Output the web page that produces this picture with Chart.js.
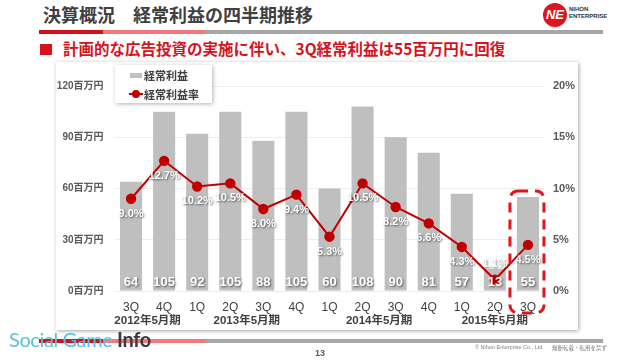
<!DOCTYPE html>
<html>
<head>
<meta charset="utf-8">
<script src="https://cdn.jsdelivr.net/npm/chart.js@4"></script>
<style>
  html,body{margin:0;padding:0;background:#fff;}
  body{width:640px;height:360px;position:relative;overflow:hidden;font-family:"Liberation Sans","Noto Sans CJK JP",sans-serif;}
  .abs{position:absolute;}
  .title{left:43px;top:1px;font:bold 18px "Noto Sans CJK JP",sans-serif;color:#404040;white-space:nowrap;}
  .bar3{height:4px;}
  .sub{left:63px;top:37px;font:bold 15.5px "Noto Sans CJK JP",sans-serif;color:#d7121c;white-space:nowrap;}
  .sq{left:40px;top:44px;width:12px;height:11px;background:#d7121c;}
  .panel{left:56px;top:62px;width:522px;height:268px;background:#fff;box-shadow:1px 1px 4px rgba(0,0,0,.35);}
  .legend{left:115px;top:65px;width:97px;height:38px;background:#fff;box-shadow:1px 1px 4px rgba(0,0,0,.3);font:bold 11px "Noto Sans CJK JP",sans-serif;color:#404040;}
  .legend div{position:absolute;white-space:nowrap;}
  .foot{font-family:"Liberation Sans",sans-serif;color:#7f7f7f;}
</style>
</head>
<body>
<div class="abs title">決算概況　経常利益の四半期推移</div>
<div class="abs bar3" style="left:39px;top:30px;width:64px;background:#d0101a"></div>
<div class="abs bar3" style="left:103px;top:30px;width:103px;background:#f4797f"></div>
<div class="abs bar3" style="left:206px;top:30px;width:397px;background:#a6a6a6"></div>

<div class="abs" style="left:543px;top:3px;width:24px;height:24px;border-radius:50%;background:#e0141e;color:#fff;font:italic bold 13px 'Liberation Sans',sans-serif;text-align:center;line-height:24px;">NE</div>
<div class="abs" style="left:569px;top:6px;font:bold 6px 'Liberation Sans',sans-serif;color:#333;line-height:7px;">NIHON<br>ENTERPRISE</div>

<div class="abs sq"></div>
<div class="abs sub">計画的な広告投資の実施に伴い、3Q経常利益は55百万円に回復</div>

<div class="abs panel">
  <canvas id="c" width="522" height="268"></canvas>
</div>

<div class="abs legend">
  <div style="left:15px;top:8px;width:12px;height:5px;background:#bfbfbf"></div>
  <div style="left:29px;top:2px">経常利益</div>
  <div style="left:14px;top:28px;width:14px;height:2px;background:#c00000"></div>
  <div style="left:17px;top:25px;width:8px;height:8px;border-radius:50%;background:#c00000"></div>
  <div style="left:29px;top:21px">経常利益率</div>
</div>

<div class="abs bar3" style="left:39px;top:339px;width:64px;background:#d0101a"></div>
<div class="abs bar3" style="left:103px;top:339px;width:103px;background:#f4797f"></div>
<div class="abs bar3" style="left:206px;top:339px;width:397px;background:#a6a6a6"></div>
<div class="abs" style="left:9px;top:327px;font:20px Lato,sans-serif;white-space:nowrap;letter-spacing:-.4px;"><span style="color:#55c3d8">Social Game </span><span style="color:#3a3a3a;font-weight:bold">Info</span></div>
<div class="abs foot" style="left:315px;top:348px;font-size:9px;font-weight:bold;color:#595959">13</div>
<div class="abs foot" style="left:475px;top:344px;font-size:5.5px">© Nihon Enterprise Co., Ltd.</div>
<div class="abs foot" style="left:552px;top:344px;font:5.5px 'Noto Sans CJK JP',sans-serif;color:#7f7f7f">無断転載・転用を禁ず</div>

<script>
const quarters = ['3Q','4Q','1Q','2Q','3Q','4Q','1Q','2Q','3Q','4Q','1Q','2Q','3Q'];
const profit = [64, 105, 92, 105, 88, 105, 60, 108, 90, 81, 57, 13, 55];
const margin = [9.0, 12.7, 10.2, 10.5, 8.0, 9.4, 5.3, 10.5, 8.2, 6.6, 4.3, 1.1, 4.5];
const yearLabels = ['2012年5月期', '2013年5月期', '2014年5月期', '2015年5月期'];
const yearFrom = [0, 2, 6, 10];
const yearTo = [1, 5, 9, 12];
const highlight = 12;
const labelAbove = [11];   // rate label drawn above its point

const FONT = "'Liberation Sans','Noto Sans CJK JP',sans-serif";
const RED = '#c00000';

// ─── labels, year groups, highlight box ─────────────────────────────────────
const extras = {
  id: 'extras',
  afterDatasetsDraw(chart) {
    const {ctx, chartArea} = chart;
    const bars = chart.getDatasetMeta(0).data;
    const pts = chart.getDatasetMeta(1).data;
    ctx.save();
    ctx.textAlign = 'center'; ctx.textBaseline = 'middle';
    ctx.shadowColor = 'rgba(0,0,0,.55)'; ctx.shadowBlur = 2; ctx.shadowOffsetX = 1; ctx.shadowOffsetY = 1;
    ctx.fillStyle = '#fff';
    ctx.font = 'bold 13px ' + FONT;
    bars.forEach((b, i) => ctx.fillText(profit[i], b.x, chartArea.bottom - 9));
    ctx.font = 'bold 11px ' + FONT;
    pts.forEach((p, i) => ctx.fillText(margin[i].toFixed(1) + '%', p.x, p.y + (labelAbove.includes(i) ? -16 : 15)));
    ctx.restore();
  },
  afterDraw(chart) {
    const {ctx, chartArea, scales} = chart;
    const x = scales.x;
    ctx.save();
    ctx.fillStyle = '#404040';
    ctx.textAlign = 'center'; ctx.textBaseline = 'middle';
    ctx.font = 'bold 11.5px ' + FONT;
    yearLabels.forEach((t, i) => {
      const cx = (x.getPixelForValue(yearFrom[i]) + x.getPixelForValue(yearTo[i])) / 2;
      ctx.fillText(t, cx, chartArea.bottom + 30);
    });
    const cx = x.getPixelForValue(highlight);
    const top = scales.y.getPixelForValue(profit[highlight]) - 6;
    const bottom = chartArea.bottom + 22;
    ctx.strokeStyle = '#e3141c'; ctx.lineWidth = 3; ctx.setLineDash([10, 7]);
    ctx.beginPath();
    ctx.roundRect(cx - 18, top, 34, bottom - top, 8);
    ctx.stroke();
    ctx.restore();
  }
};

new Chart(document.getElementById('c').getContext('2d'), {
  data: {
    labels: quarters,
    datasets: [
      {type: 'bar', label: '経常利益', data: profit, backgroundColor: '#bfbfbf', yAxisID: 'y',
       categoryPercentage: 1, barPercentage: 0.667, order: 2},
      {type: 'line', label: '経常利益率', data: margin, borderColor: RED, borderWidth: 2,
       pointRadius: 4.2, pointBackgroundColor: RED, pointBorderColor: RED, yAxisID: 'y1', tension: 0, order: 1}
    ]
  },
  options: {
    responsive: false, animation: false,
    layout: {padding: {top: 24, left: 0, right: 0, bottom: 0}},
    plugins: {legend: {display: false}, tooltip: {enabled: false}},
    scales: {
      x: {
        grid: {display: false, drawTicks: false}, border: {display: false},
        ticks: {color: '#404040', font: {size: 12, family: FONT}, padding: 9},
        afterFit: s => { s.height = 39; }
      },
      y: {
        position: 'left', min: 0, max: 120,
        grid: {color: '#ececec', drawTicks: false}, border: {display: false},
        ticks: {stepSize: 30, color: '#595959', font: {size: 10, weight: 'bold', family: FONT}, padding: 11,
                callback: v => v + '百万円'},
        afterFit: s => { s.width = 58.5; }
      },
      y1: {
        position: 'right', min: 0, max: 20,
        grid: {display: false, drawTicks: false}, border: {display: false},
        ticks: {stepSize: 5, color: '#595959', font: {size: 11, weight: 'bold', family: FONT}, padding: 8.5,
                callback: v => v + '%'},
        afterFit: s => { s.width = 33.5; }
      }
    }
  },
  plugins: [extras]
});
</script>
</body>
</html>
